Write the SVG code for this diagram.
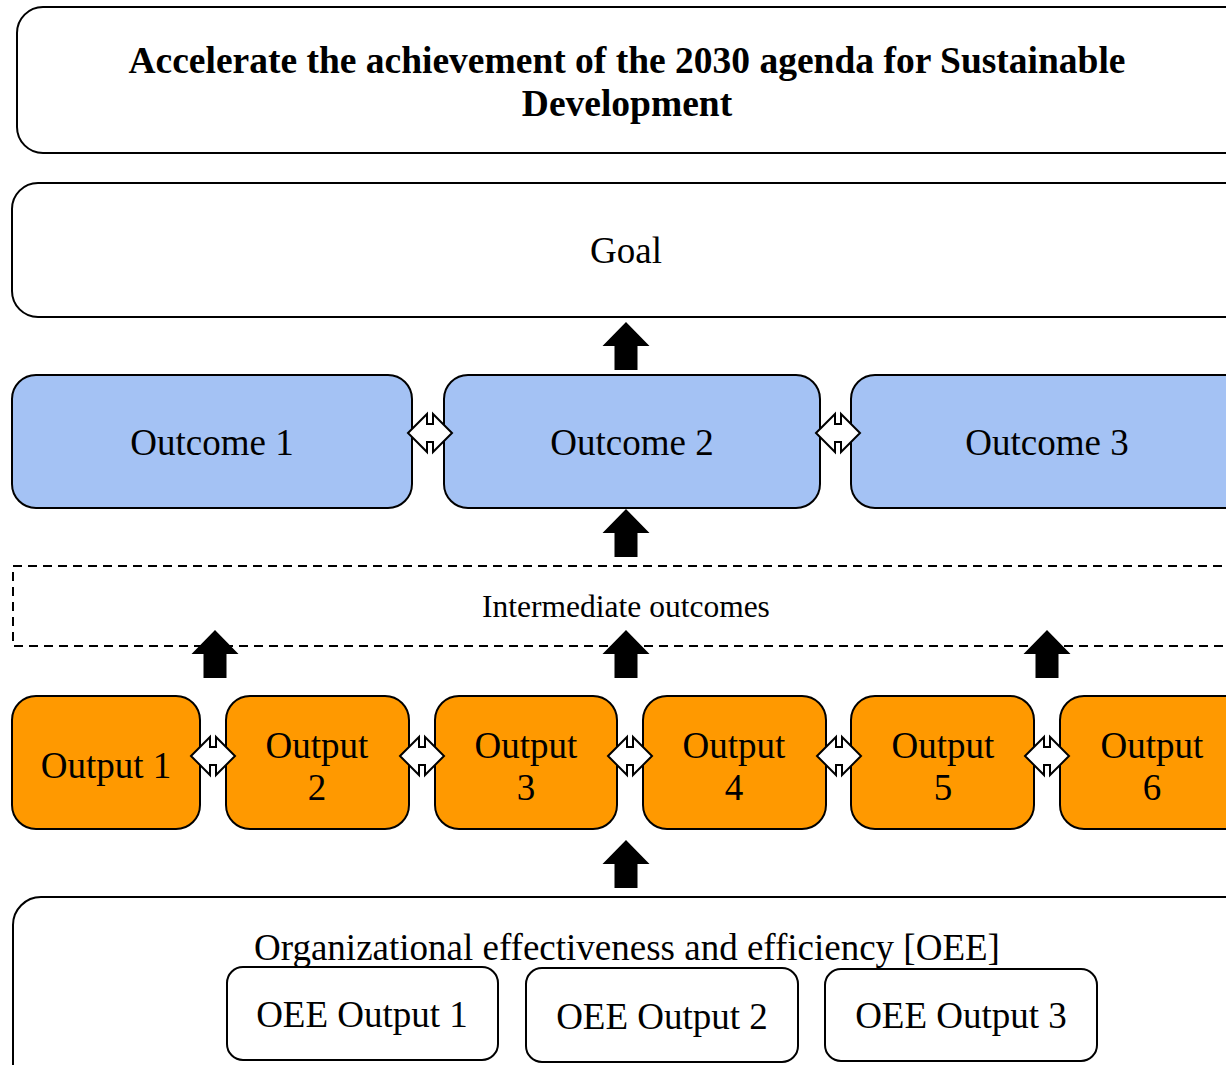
<svg xmlns="http://www.w3.org/2000/svg" width="1226" height="1065" viewBox="0 0 1226 1065">
<defs>
<style>
.box{fill:#ffffff;stroke:#000;stroke-width:2}
.oc{fill:#a4c2f4;stroke:#000;stroke-width:2}
.op{fill:#ff9900;stroke:#000;stroke-width:2}
.dash{fill:none;stroke:#000;stroke-width:2;stroke-dasharray:9,6}
.t{font-family:"Liberation Serif","Times New Roman",serif;font-size:37px;fill:#000;text-anchor:middle}
.tb{font-family:"Liberation Serif","Times New Roman",serif;font-size:37.5px;font-weight:bold;fill:#000;text-anchor:middle}
.ts{font-family:"Liberation Serif","Times New Roman",serif;font-size:31.5px;fill:#000;text-anchor:middle}
.up{fill:#000}
.lr{fill:#fff;stroke:#000;stroke-width:2;stroke-linejoin:miter}
</style>
<path id="uparrow" d="M0,0 L23.5,24 L11.5,24 L11.5,48 L-11.5,48 L-11.5,24 L-23.5,24 Z"/>
<path id="lrarrow" d="M-22,0 L-3,-19 L-3,-9 L3,-9 L3,-19 L22,0 L3,19 L3,9 L-3,9 L-3,19 Z"/>
</defs>

<g id="agenda">
<rect class="box" x="17" y="7" width="1240" height="146" rx="26"/>
<text class="tb" x="627" y="73">Accelerate the achievement of the 2030 agenda for Sustainable</text>
<text class="tb" x="627" y="116">Development</text>
</g>

<g id="goal">
<rect class="box" x="12" y="183" width="1245" height="134" rx="26"/>
<text class="t" x="626" y="263">Goal</text>
</g>

<g id="outcome1">
<rect class="oc" x="12" y="375" width="400" height="133" rx="24"/>
<text class="t" x="212" y="455">Outcome 1</text>
</g>
<g id="outcome2">
<rect class="oc" x="444" y="375" width="376" height="133" rx="24"/>
<text class="t" x="632" y="455">Outcome 2</text>
</g>
<g id="outcome3">
<rect class="oc" x="851" y="375" width="400" height="133" rx="24"/>
<text class="t" x="1047" y="455">Outcome 3</text>
</g>

<g id="intermediate">
<rect class="dash" x="13" y="566" width="1240" height="80"/>
<text class="ts" x="626" y="617">Intermediate outcomes</text>
</g>

<g id="output1">
<rect class="op" x="12" y="696" width="188" height="133" rx="24"/>
<text class="t" x="106" y="778">Output 1</text>
</g>
<g id="output2">
<rect class="op" x="226" y="696" width="183" height="133" rx="24"/>
<text class="t" x="317" y="758">Output</text>
<text class="t" x="317" y="800">2</text>
</g>
<g id="output3">
<rect class="op" x="435" y="696" width="182" height="133" rx="24"/>
<text class="t" x="526" y="758">Output</text>
<text class="t" x="526" y="800">3</text>
</g>
<g id="output4">
<rect class="op" x="643" y="696" width="183" height="133" rx="24"/>
<text class="t" x="734" y="758">Output</text>
<text class="t" x="734" y="800">4</text>
</g>
<g id="output5">
<rect class="op" x="851" y="696" width="183" height="133" rx="24"/>
<text class="t" x="943" y="758">Output</text>
<text class="t" x="943" y="800">5</text>
</g>
<g id="output6">
<rect class="op" x="1060" y="696" width="200" height="133" rx="24"/>
<text class="t" x="1152" y="758">Output</text>
<text class="t" x="1152" y="800">6</text>
</g>

<g id="oee">
<rect class="box" x="13" y="897" width="1245" height="200" rx="28"/>
<text class="t" x="627" y="960">Organizational effectiveness and efficiency [OEE]</text>
</g>
<g id="oee1">
<rect class="box" x="227" y="967" width="271" height="93" rx="16"/>
<text class="t" x="362" y="1027">OEE Output 1</text>
</g>
<g id="oee2">
<rect class="box" x="526" y="968" width="272" height="94" rx="16"/>
<text class="t" x="662" y="1029">OEE Output 2</text>
</g>
<g id="oee3">
<rect class="box" x="825" y="969" width="272" height="92" rx="16"/>
<text class="t" x="961" y="1028">OEE Output 3</text>
</g>

<g id="connectors">
<use href="#uparrow" class="up" x="626" y="322"/>
<use href="#uparrow" class="up" x="626" y="509"/>
<use href="#uparrow" class="up" x="215" y="630"/>
<use href="#uparrow" class="up" x="626" y="630"/>
<use href="#uparrow" class="up" x="1047" y="630"/>
<use href="#uparrow" class="up" x="626" y="840"/>
<use href="#lrarrow" class="lr" x="430" y="433"/>
<use href="#lrarrow" class="lr" x="838" y="433"/>
<use href="#lrarrow" class="lr" x="213" y="756"/>
<use href="#lrarrow" class="lr" x="422" y="756"/>
<use href="#lrarrow" class="lr" x="630" y="756"/>
<use href="#lrarrow" class="lr" x="839" y="756"/>
<use href="#lrarrow" class="lr" x="1047" y="756"/>
</g>
</svg>
